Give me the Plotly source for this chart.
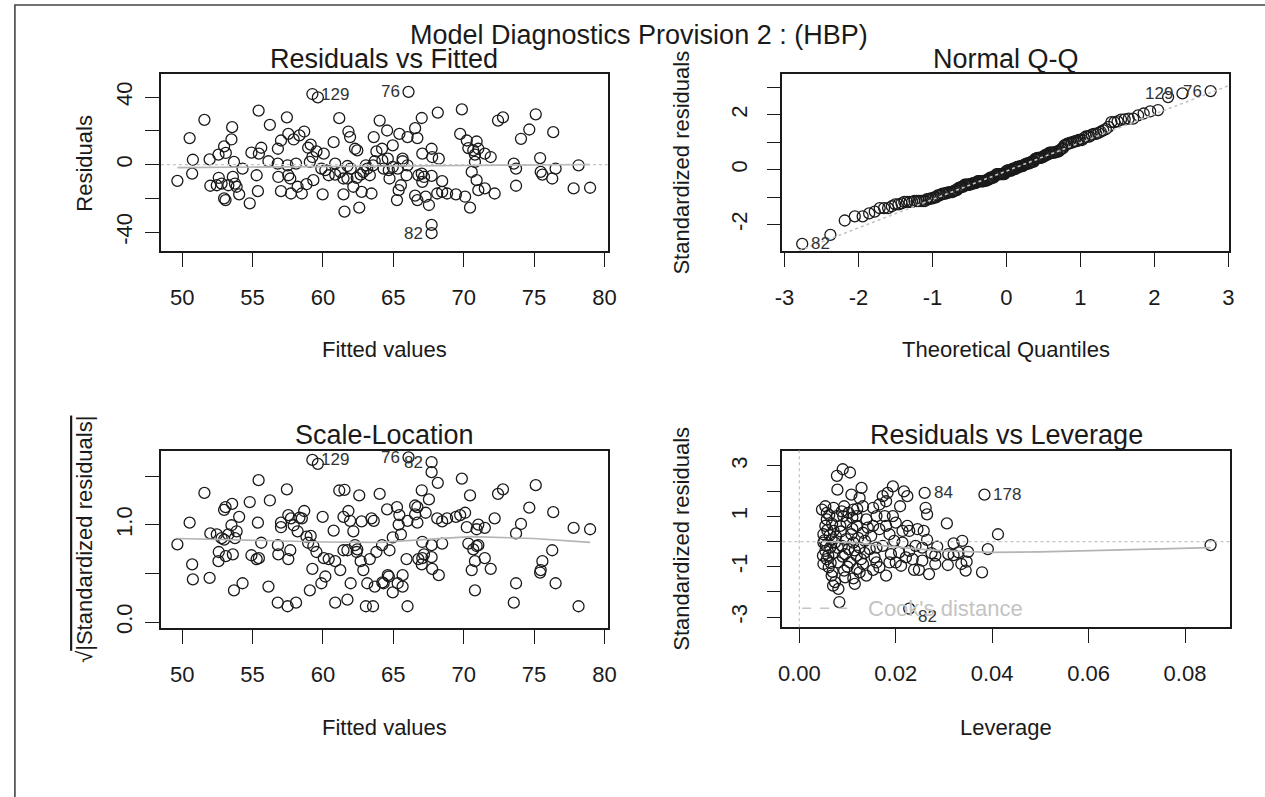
import numpy as np
import plotly.graph_objects as go
from statistics import NormalDist

W, H = 1265, 797
FONT = "Liberation Sans, Arial, Helvetica, sans-serif"
INK = "#1a1a1a"
SMOOTH = "#b4b4b4"
REF = "#c4c4c4"

# ---------------- data ----------------
# Residuals vs Fitted (one entry per observation)
fitted = [49.66, 50.53, 50.76, 50.71, 51.58, 51.95, 52.0, 52.58, 52.6, 52.98, 53.1, 53.5, 53.55,
          52.98, 53.08, 52.8, 53.28, 53.75, 53.87, 53.6, 53.68, 54.05, 54.29, 54.8, 54.92, 55.29,
          55.43, 55.38, 55.62, 55.45, 56.13, 56.23, 56.8, 56.83, 57.02, 57.02, 57.44, 57.54, 57.54,
          57.68, 57.73, 57.92, 58.09, 58.2, 58.33, 58.5, 58.67, 58.83, 58.95, 59.07, 59.13, 59.32,
          59.25, 59.64, 59.54, 59.89, 59.98, 60.06, 60.41, 60.76, 60.87, 60.87, 61.16, 61.46, 61.46,
          61.53, 61.81, 61.93, 61.97, 62.16, 62.28, 62.44, 62.4, 62.58, 62.75, 62.87, 63.15, 63.45,
          63.61, 63.68, 63.8, 64.03, 64.2, 64.56, 64.68,
          61.23, 61.74, 62.68, 63.05, 63.56, 63.33, 64.22, 64.31, 61.74, 60.17, 59.25, 57.49, 56.79, 52.46,
          66.08, 65.43, 66.01, 66.55, 66.71, 67.02, 68.16, 69.87, 69.75, 70.22, 70.92, 70.33, 70.68,
          71.04, 71.5, 71.92, 72.44, 72.79, 74.07, 74.66, 75.12, 76.36, 75.43, 73.56, 73.72, 75.47,
          75.59, 76.29, 76.53, 78.16, 77.81, 78.98, 73.72, 70.45, 70.57, 70.92, 71.04, 72.2, 71.5,
          70.8, 70.8, 67.72, 67.76, 68.23, 67.06, 67.72, 67.72, 67.53, 67.3, 66.71, 66.55, 65.26,
          65.38, 65.54, 64.73, 64.96, 65.31, 65.66, 66.01, 65.94, 66.78, 67.02, 67.18, 67.72, 68.47,
          68.82, 68.12, 69.45, 70.1, 68.47, 67.06, 64.96, 64.61, 65.66]
residuals = [-9.6, 15.7, 2.9, -5.3, 26.5, 3.1, -12.5, 5.9, -7.8, 10.8, 6.9, 14.9, 22.2,
             -20.0, -21.0, -11.2, -12.2, -11.2, -13.1, -7.3, 1.6, -17.6, -2.4, -22.9, 7.1, -6.3,
             32.0, -15.7, 10.0, 6.5, 2.0, 23.5, 9.4, -7.3, 14.3, -15.7, 28.0, 18.2, -6.3,
             -8.2, -17.1, 14.9, 0.6, -13.1, 17.3, -17.1, 19.6, -11.6, 10.0, 1.6, 11.8, -9.2,
             41.8, 39.8, 7.8, -2.4, -17.6, 6.5, -6.3, 13.3, 0.6, -5.9, 27.5, -8.2, -17.6,
             -27.8, 19.6, 16.3, -2.4, -13.1, 9.4, 8.4, -7.8, -25.5, -16.1, -4.3, -2.4, -17.1,
             16.3, 2.0, 7.8, 26.1, 9.4, 20.2, -3.3,
             -4.3, -8.2, -5.9, -0.4, -0.4, -6.3, 2.5, -2.4, -0.8, -3.3, 4.5, -0.4, 0.6, -12.2,
             43.1, 18.2, 16.3, 21.6, 15.7, 27.6, 30.8, 32.7, 18.2, 14.3, 13.7, 9.8, 8.4,
             9.4, 6.5, 4.5, 26.1, 28.0, 15.3, 20.8, 29.8, 19.2, 3.9, 0.6, -2.4, -4.3,
             -5.9, -8.2, -2.4, -0.4, -14.1, -13.7, -12.5, -25.5, -4.3, -9.2, -15.1, -17.1, -14.1,
             5.9, 1.6, 9.4, 4.5, 3.5, 6.5, -35.7, -40.6, -23.9, -19.0, -21.0, -18.4, -21.0,
             -15.1, -12.2, -8.2, -1.4, -2.4, 3.5, -0.4, -6.3, -6.3, -5.3, -7.3, -6.7, -9.8,
             -17.1, -17.1, -17.6, -19.0, -16.1, -10.2, 11.4, 3.5, 2.0]
sigma_hat = 15.0                      # residual standard error read from labelled points
resid_names = ["76", "129", "82"]     # three largest |residuals|

# Residuals vs Leverage (first three are the labelled observations)
lev_names = ["84", "178", "82"]
leverage = [0.0260, 0.0384, 0.0228,
            0.0078, 0.0090, 0.0105, 0.0079, 0.0108, 0.0129, 0.0125, 0.0054, 0.0057, 0.0071,
            0.0093, 0.0102, 0.0112, 0.0119, 0.0132, 0.0153, 0.0160, 0.0173, 0.0183, 0.0194,
            0.0217, 0.0224, 0.0180, 0.0166, 0.0177, 0.0194, 0.0209, 0.0200, 0.0224, 0.0214,
            0.0228, 0.0245, 0.0258, 0.0262, 0.0265, 0.0306, 0.0412, 0.0391, 0.0379,
            0.0350, 0.0338, 0.0320, 0.0347, 0.0345, 0.0308, 0.0320, 0.0286, 0.0274, 0.0282,
            0.0269, 0.0255, 0.0248, 0.0238, 0.0241, 0.0255, 0.0265, 0.0228, 0.0214, 0.0207,
            0.0200, 0.0211, 0.0190, 0.0180, 0.0166, 0.0153, 0.0139, 0.0132, 0.0156, 0.0173,
            0.0187, 0.0197, 0.0149, 0.0132, 0.0119, 0.0112, 0.0119, 0.0119, 0.0115, 0.0093,
            0.0081, 0.0074, 0.0070, 0.0081, 0.0061, 0.0057, 0.0054, 0.0050, 0.0050, 0.0054,
            0.0057, 0.0071, 0.0085, 0.0088, 0.0095, 0.0102, 0.0108, 0.0098, 0.0083,
            0.0074, 0.0064, 0.0067, 0.0146, 0.0160, 0.0136, 0.0125, 0.0166, 0.0180, 0.0139,
            0.0153, 0.0091, 0.0105, 0.0095, 0.0067, 0.0125, 0.0112, 0.0078, 0.0047, 0.0049,
            0.0050, 0.0160, 0.0187, 0.0221, 0.0235, 0.0282, 0.0336, 0.0309, 0.0330, 0.0853,
            0.0052, 0.0055, 0.0058, 0.0060, 0.0063, 0.0065, 0.0068, 0.0072, 0.0076, 0.0080,
            0.0086, 0.0090, 0.0097, 0.0100, 0.0110, 0.0115, 0.0122, 0.0128, 0.0135, 0.0142,
            0.0062, 0.0069, 0.0088, 0.0110, 0.0120]
lev_std_resid = [1.93, 1.86, -2.66,
                 2.61, 2.87, 2.74, 2.06, 1.86, 2.13, 1.73, 1.40, 1.14, 1.34,
                 1.40, 1.14, 1.27, 1.01, 1.40, 1.34, 1.01, 1.80, 1.93, 2.19,
                 1.99, 1.80, 1.60, 1.47, 1.01, 1.01, 1.40, 0.75, 0.62, 0.42,
                 0.42, 0.49, 0.42, 1.34, 1.08, 0.72, 0.29, -0.30, -1.22,
                 -0.41, 0.03, -0.07, -0.80, -1.15, -0.93, -0.54, -0.20, -0.46, -0.56,
                 -1.29, -0.76, -1.12, -1.12, -0.17, -0.24, 0.07, -0.37, -0.04, -0.43,
                 -0.83, -0.96, -0.50, -1.35, -1.02, -1.12, -1.35, -0.89, -0.63, -0.17,
                 0.29, 0.03, 0.22, 0.35, 0.62, -0.04, -0.56, -1.09, -1.68, -1.15,
                 -0.83, -1.61, -1.75, -1.88, -1.02, -0.70, -0.37, -0.04, 0.29, 0.62,
                 0.88, 0.42, 0.62, -0.17, -0.50, -0.30, 0.29, 0.75, -2.40,
                 -0.04, -0.24, 0.09, -0.30, -0.24, 0.03, -0.24, 0.49, 0.62, 0.88,
                 0.62, 1.01, -0.83, -1.42, -1.35, -1.22, -1.46, 1.01, 1.27, -0.56,
                 -0.89, -0.83, -0.83, -0.63, -0.70, -0.89, -0.89, -0.50, -0.43, -0.14,
                 0.05, -0.15, 0.45, -0.55, 0.25, -0.85, 0.70, -0.45, 0.20, -0.25,
                 0.40, -0.60, 0.10, -1.00, 0.50, -0.35, 0.15, -0.70, -0.45, 0.55,
                 1.05, -1.20, 1.20, 0.95, 1.30]

# smoother lines
smooth1_x = [49.66, 52, 55, 58, 61, 64, 67, 70, 73, 76, 78.98]
smooth1_y = [-1.8, -1.7, -1.5, -1.3, -1.1, -0.9, -0.7, -0.5, -0.3, -0.1, 0.1]
smooth3_x = [49.66, 55, 60, 64, 67, 70.5, 75, 78.98]
smooth3_y = [0.86, 0.84, 0.825, 0.82, 0.85, 0.88, 0.86, 0.82]
smooth4_x = [0.0047, 0.008, 0.012, 0.016, 0.02, 0.025, 0.03, 0.035, 0.04, 0.05, 0.06, 0.07, 0.0853]
smooth4_y = [0.0, -0.02, -0.06, -0.14, -0.22, -0.30, -0.37, -0.41, -0.43, -0.41, -0.37, -0.32, -0.24]

# axis ticks
fit_ticks = [50, 55, 60, 65, 70, 75, 80]
fit_ticktext = ["50", "55", "60", "65", "70", "75", "80"]
res_ticks = [-40, -20, 0, 20, 40]
res_ticktext = ["-40", "", "0", "", "40"]
qx_ticks = [-3, -2, -1, 0, 1, 2, 3]
qx_ticktext = ["-3", "-2", "-1", "0", "1", "2", "3"]
qy_ticks = [-2, -1, 0, 1, 2, 3]
qy_ticktext = ["-2", "", "0", "", "2", ""]
sl_ticks = [0.0, 0.5, 1.0, 1.5]
sl_ticktext = ["0.0", "", "1.0", ""]
lev_ticks = [0.0, 0.02, 0.04, 0.06, 0.08]
lev_ticktext = ["0.00", "0.02", "0.04", "0.06", "0.08"]
lr_ticks = [-3, -2, -1, 0, 1, 2, 3]
lr_ticktext = ["-3", "", "-1", "", "1", "", "3"]

# ---------------- derived quantities (as plot.lm does) ----------------
fitted_a = np.array(fitted)
res_a = np.array(residuals)
std_res = res_a / sigma_hat
sqrt_abs = np.sqrt(np.abs(std_res))
n = len(std_res)
nd = NormalDist()
order = np.argsort(std_res)
theo = np.array([nd.inv_cdf((i + 0.5) / n) for i in range(n)])
qq_y = std_res[order]
q1, q3 = np.quantile(std_res, [0.25, 0.75])
x1, x3 = nd.inv_cdf(0.25), nd.inv_cdf(0.75)
qq_slope = (q3 - q1) / (x3 - x1)
qq_int = q1 - qq_slope * x1
top_idx = list(np.argsort(-np.abs(res_a))[:3])


def px(x):
    return x / W


def py(y):
    return 1 - y / H


marker = dict(symbol="circle-open", size=11, color=INK, line=dict(width=1.3, color=INK))

fig = go.Figure()
# panel 1
fig.add_trace(go.Scatter(x=fitted, y=residuals, mode="markers", marker=marker, xaxis="x", yaxis="y"))
fig.add_trace(go.Scatter(x=smooth1_x, y=smooth1_y, mode="lines", line=dict(color=SMOOTH, width=1.6),
                         xaxis="x", yaxis="y"))
# panel 2
fig.add_trace(go.Scatter(x=theo, y=qq_y, mode="markers", marker=marker, xaxis="x2", yaxis="y2"))
qx_range = [-3.027, 3.013]
fig.add_trace(go.Scatter(x=qx_range, y=[qq_int + qq_slope * v for v in qx_range], mode="lines",
                         line=dict(color=REF, width=1.6, dash="dot"), xaxis="x2", yaxis="y2"))
# panel 3
fig.add_trace(go.Scatter(x=fitted, y=sqrt_abs, mode="markers", marker=marker, xaxis="x3", yaxis="y3"))
fig.add_trace(go.Scatter(x=smooth3_x, y=smooth3_y, mode="lines", line=dict(color=SMOOTH, width=1.6),
                         xaxis="x3", yaxis="y3"))
# panel 4
fig.add_trace(go.Scatter(x=leverage, y=lev_std_resid, mode="markers", marker=marker, xaxis="x4", yaxis="y4"))
fig.add_trace(go.Scatter(x=smooth4_x, y=smooth4_y, mode="lines", line=dict(color=SMOOTH, width=1.6),
                         xaxis="x4", yaxis="y4"))

tickfont = dict(family=FONT, size=22, color=INK)
common = dict(showline=True, mirror=True, linecolor=INK, linewidth=1.6, ticks="outside", ticklen=14,
              tickwidth=1.4, tickcolor=INK, showgrid=False, zeroline=False, tickfont=tickfont,
              fixedrange=True, tickmode="array")
xcommon = dict(common, ticklabelstandoff=12)
ycommon = dict(common, tickangle=-90, ticklabelstandoff=4)
ycommon_r = dict(common, tickangle=-90, ticklabelstandoff=11)

fig.update_layout(
    width=W, height=H, margin=dict(l=0, r=0, t=0, b=0), autosize=False,
    paper_bgcolor="white", plot_bgcolor="white", showlegend=False,
    xaxis=dict(xcommon, domain=[px(155), px(608)], range=[48.49, 80.24], tickvals=fit_ticks,
               ticktext=fit_ticktext, anchor="y"),
    yaxis=dict(ycommon, domain=[py(253), py(75)], range=[-51.2, 53.4], tickvals=res_ticks,
               ticktext=res_ticktext, anchor="x"),
    xaxis2=dict(xcommon, domain=[px(785), px(1238)], range=qx_range, tickvals=qx_ticks,
                ticktext=qx_ticktext, anchor="y2"),
    yaxis2=dict(ycommon_r, domain=[py(253), py(75)], range=[-2.97, 3.48], tickvals=qy_ticks,
                ticktext=qy_ticktext, anchor="x2"),
    xaxis3=dict(xcommon, domain=[px(155), px(608)], range=[48.49, 80.24], tickvals=fit_ticks,
                ticktext=fit_ticktext, anchor="y3"),
    yaxis3=dict(ycommon, domain=[py(632.5), py(454)], range=[-0.058, 1.765], tickvals=sl_ticks,
                ticktext=sl_ticktext, anchor="x3"),
    xaxis4=dict(xcommon, domain=[px(785), px(1239)], range=[-0.0035, 0.0894], tickvals=lev_ticks,
                ticktext=lev_ticktext, anchor="y4"),
    yaxis4=dict(ycommon_r, domain=[py(632), py(454)], range=[-3.40, 3.61], tickvals=lr_ticks,
                ticktext=lr_ticktext, anchor="x4"),
)

ann = []


def text(x, y, s, size=22, angle=0, color=INK):
    ann.append(dict(x=px(x), y=py(y), xref="paper", yref="paper", text=s, showarrow=False,
                    xanchor="center", yanchor="middle", textangle=angle,
                    font=dict(family=FONT, size=size, color=color)))


text(640, 35, "Model Diagnostics Provision 2 : (HBP)", 27)
text(381.5, 59, "Residuals vs Fitted", 27)
text(1011.5, 59, "Normal Q-Q", 27)
text(381.5, 438, "Scale-Location", 27)
text(1012, 438, "Residuals vs Leverage", 27)
text(381.5, 352, "Fitted values")
text(1011.5, 352, "Theoretical Quantiles")
text(381.5, 733, "Fitted values")
text(1012, 733, "Leverage")
text(78, 164, "Residuals", angle=-90)
text(683, 164, "Standardized residuals", angle=-90)
text(78, 543, "√<span style='text-decoration:overline'>|Standardized residuals|</span>", angle=-90)
text(683, 543, "Standardized residuals", angle=-90)


def label(xr, yr, x, y, s, side, yshift=0):
    ann.append(dict(x=x, y=y, xref=xr, yref=yr, text=s, showarrow=False,
                    xanchor="left" if side == "right" else "right", yanchor="middle",
                    xshift=7 if side == "right" else -7, yshift=yshift,
                    font=dict(family=FONT, size=17, color="#333")))


mid_fit = (max(fitted) + min(fitted)) / 2
for name, i in zip(resid_names, top_idx):
    side = "right" if fitted[i] < mid_fit else "left"
    label("x", "y", fitted[i], residuals[i], name, side)
    label("x3", "y3", fitted[i], float(sqrt_abs[i]), name, side)
    rank = int(np.where(order == i)[0][0])
    label("x2", "y2", float(theo[rank]), float(qq_y[rank]), name, "right" if theo[rank] < 0 else "left")
for k, name in enumerate(lev_names):
    label("x4", "y4", leverage[k], lev_std_resid[k], name, "right", yshift=-8 if lev_std_resid[k] < 0 else 0)

# Cook's distance legend
ann.append(dict(x=0.187, y=0.107, xref="x4 domain", yref="y4 domain", text="Cook's distance",
                showarrow=False, xanchor="left", yanchor="middle",
                font=dict(family=FONT, size=22, color="#c4c4c4")))

fig.update_layout(annotations=ann)

shapes = [
    dict(type="rect", xref="paper", yref="paper", x0=px(7), x1=1.01, y0=-0.02, y1=py(5),
         line=dict(color="#444", width=1.6)),
    dict(type="line", xref="x", yref="y", x0=48.49, x1=80.24, y0=0, y1=0,
         line=dict(color=REF, width=1.3, dash="dot")),
    dict(type="line", xref="x4", yref="y4 domain", x0=0, x1=0, y0=0, y1=1,
         line=dict(color=REF, width=1.3, dash="dot")),
    dict(type="line", xref="x4 domain", yref="y4", x0=0, x1=1, y0=0, y1=0,
         line=dict(color=REF, width=1.3, dash="dot")),
    dict(type="line", xref="x4 domain", yref="y4 domain", x0=0.044, x1=0.161, y0=0.107, y1=0.107,
         line=dict(color="#c4c4c4", width=1.5, dash="dash")),
]
fig.update_layout(shapes=shapes)

fig.write_html("out.html")
